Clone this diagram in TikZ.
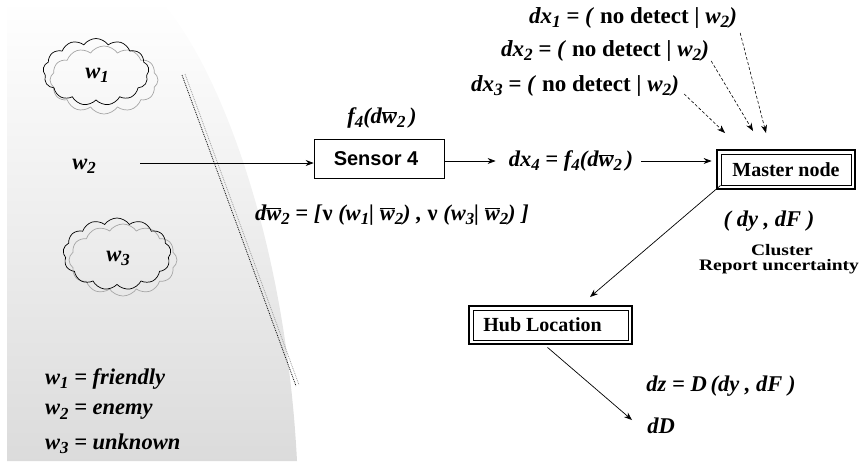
\documentclass[tikz,border=0pt]{standalone}
\usepackage{fontspec}
\setmainfont{Liberation Serif}
\newfontfamily\arialf{Liberation Sans}
\usetikzlibrary{arrows.meta,shapes.symbols,calc}
\newcommand\sbs[1]{\raisebox{-0.4ex}{\scalebox{0.75}{\itshape #1}}}
\newcommand\wbar[1]{$\overline{\hbox{\bfseries\itshape w}}$\sbs{#1}}
\tikzset{
  mt/.style={font=\fontsize{22.5}{24}\selectfont\bfseries\itshape, inner sep=1pt},
  mtb/.style={font=\fontsize{23}{25}\selectfont\bfseries\itshape, inner sep=1pt},
  bt/.style={font=\fontsize{20}{22}\selectfont\bfseries, inner sep=0pt},
  st/.style={font=\fontsize{16}{17}\selectfont\bfseries, inner sep=0pt},
  arr/.style={line width=0.7pt, -{Stealth[length=8pt,width=6pt]}},
  darr/.style={line width=0.6pt, dash pattern=on 3pt off 2pt, -{Stealth[length=8pt,width=6pt]}},
  dotl/.style={line width=0.8pt, dash pattern=on 0.8pt off 1pt},
  cloudb/.style={cloud, cloud puffs=13, cloud puff arc=110, aspect=1.6, draw=black, line width=0.7pt, inner sep=0pt},
  cloudg/.style={cloud, cloud puffs=12, cloud puff arc=110, aspect=1.6, draw=gray!70, line width=0.7pt, inner sep=0pt},
}
\begin{document}
\begin{tikzpicture}[x=1pt,y=-1pt]
\useasboundingbox (0,0) rectangle (861,461);
% background region
\shade[top color=white, bottom color=black!14] (7,0) -- (160,0) .. controls (215,60) and (285,230) .. (297,461) -- (7,461) -- cycle;
% double dotted line
\draw[dotl, black] (182,75) -- (296,386);
\draw[dotl, gray!80] (185,74) -- (299,385);
% clouds
\node[cloudg, minimum width=108, minimum height=68] (c1g) at (104,80) {};
\node[cloudb, minimum width=106, minimum height=67] (c1) at (96,72) {};
\node[mt] (w1) at (97,75) {w\sbs{1}};
\node[cloudg, minimum width=108, minimum height=72] (c3g) at (123,260) {};
\node[cloudb, minimum width=108, minimum height=72] (c3) at (117,254) {};
\node[mt] (w3) at (118,258) {w\sbs{3}};
% w2 and sensor
\node[mt] (w2) at (84,166) {w\sbs{2}};
\coordinate (w2src) at (140,163);
\node[draw, line width=0.7pt, font=\fontsize{20}{22}\selectfont\arialf\bfseries, minimum width=130, minimum height=39, inner sep=0pt] (s4) at (379,159) {Sensor 4\hspace*{6pt}};
\draw[arr] (w2src) -- (s4.west |- w2src);
\node[mt] (f4) at (382,118) {f\sbs{4}(d\wbar{2}\,)};
\node[mt] (dwb) at (392,215) {d\wbar{2} = [\textup{ν} (w\sbs{1}| \wbar{2}) , \textup{ν} (w\sbs{3}| \wbar{2}) ]};
\node[mt] (dx4) at (571,161) {dx\sbs{4} = f\sbs{4}(d\wbar{2}\,)};
\draw[arr] (s4.east |- dx4) -- ([xshift=-12pt]dx4.west);
% master node
\node[bt, draw, line width=0.8pt, minimum width=130, minimum height=31] (mn) at (786,169.5) {Master node};
\draw[line width=2.6pt] ($(mn.south west)+(-3.5,3.5)$) rectangle ($(mn.north east)+(3.5,-3.5)$);
\draw[arr] ([xshift=7pt]dx4.east) -- ([xshift=-9pt]mn.west |- dx4);
% dx1..dx3
\node[mtb] (dx1) at (633,18) {dx\sbs{1} = ( \textup{no detect} | w\sbs{2})};
\node[mtb] (dx2) at (605,51) {dx\sbs{2} = ( \textup{no detect} | w\sbs{2})};
\node[mtb] (dx3) at (575,86) {dx\sbs{3} = ( \textup{no detect} | w\sbs{2})};
\coordinate (t1) at (766,133);
\coordinate (t2) at (753,131);
\coordinate (t3) at (725,133);
\draw[darr] ($(dx1.east)+(2,15)$) -- (t1);
\draw[darr] ($(dx2.east)+(1,10)$) -- (t2);
\draw[darr] ($(dx3.east)+(4,8)$) -- (t3);
% labels under master node
\node[mt] (dydf) at (769,221) {( dy , dF )};
\node[st] (clus) at (782,250) {\scalebox{1.22}[1]{Cluster}};
\node[st] (rep) at (779,267) {\scalebox{1.22}[1]{Report uncertainty}};
% hub
\node[bt, draw, line width=0.8pt, minimum width=155, minimum height=30] (hub) at (550.5,325) {Hub Location\hspace*{16pt}};
\draw[line width=2.6pt] ($(hub.south west)+(-3.5,3.5)$) rectangle ($(hub.north east)+(3.5,-3.5)$);
\coordinate (htip) at (590,297);
\draw[arr] (mn.south west) -- (htip);
% output
\node[mt] (dz) at (721,386) {dz = D\,(dy , dF )};
\node[mt] (dD) at (661,426) {dD};
\coordinate (dtip) at (632,420);
\draw[arr] ($(hub.south)+(-3,7)$) -- (dtip);
% legend
\node[mt, anchor=west] (l1) at (44,379) {w\sbs{1} = friendly};
\node[mt, anchor=west] (l2) at (44,412) {w\sbs{2} = enemy};
\node[mt, anchor=west] (l3) at (44,444) {w\sbs{3} = unknown};
\end{tikzpicture}
\end{document}
